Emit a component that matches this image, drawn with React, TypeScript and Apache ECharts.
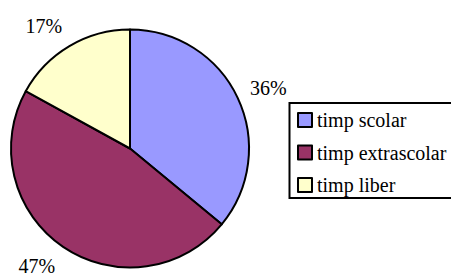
import React, { useEffect, useRef } from "react";
import * as echarts from "echarts";

const categories = ["timp scolar", "timp extrascolar", "timp liber"];
const values = [36, 47, 17];
const colors = ["#9999FF", "#993366", "#FFFFCC"];

export default function App() {
  const ref = useRef<HTMLDivElement>(null);
  useEffect(() => {
    if (!ref.current) return;
    const chart = echarts.init(ref.current, undefined, { renderer: "svg" });
    const total = values.reduce((a, b) => a + b, 0);
    // label anchor: corner of the text nearest to the pie
    const textW = 38;
    let acc = 0;
    const labelData = values.map((v, i) => {
      const mid = ((acc + v / 2) / total) * Math.PI * 2;
      acc += v;
      const dx = Math.sin(mid);
      const dy = -Math.cos(mid);
      const pct = Math.round((v / total) * 100) + "%";
      return {
        name: categories[i],
        value: v,
        label: {
          padding: [0, dx < 0 ? textW : 0, 0, dx >= 0 ? textW : 0],
          lineHeight: 20 * Math.abs(dy),
          formatter: dy < 0 ? pct + "\n " : " \n" + pct,
        },
      };
    });
    const font = "Liberation Serif";
    chart.setOption({
      animation: false,
      textStyle: { fontFamily: font },
      legend: {
        orient: "vertical",
        left: 289.5,
        top: 103,
        padding: [7, 20, 3, 7.5],
        itemWidth: 14,
        itemHeight: 14,
        itemGap: 12.5,
        icon: "rect",
        borderColor: "#000",
        borderWidth: 2,
        data: categories,
        textStyle: {
          fontFamily: font,
          fontSize: 20,
          lineHeight: 20,
          color: "#000",
        },
        selectedMode: false,
      },
      series: [
        {
          type: "pie",
          center: [130, 148.5],
          radius: [0, 119],
          startAngle: 90,
          clockwise: true,
          silent: true,
          label: { show: false },
          labelLine: { show: false },
          itemStyle: { borderColor: "#000", borderWidth: 2 },
          data: values.map((v, i) => ({
            name: categories[i],
            value: v,
            itemStyle: { color: colors[i] },
          })),
        },
        {
          type: "pie",
          center: [130, 148.5],
          radius: [0, 258],
          startAngle: 90,
          clockwise: true,
          silent: true,
          itemStyle: { color: "rgba(0,0,0,0)", borderWidth: 0 },
          label: {
            show: true,
            position: "inside",
            fontFamily: font,
            fontSize: 20,
            color: "#000",
          },
          labelLine: { show: false },
          data: labelData,
        },
      ],
    });
    return () => chart.dispose();
  }, []);
  return (
    <div
      ref={ref}
      style={{ position: "fixed", left: 0, top: 0, width: 451, height: 277, background: "#fff" }}
    />
  );
}
